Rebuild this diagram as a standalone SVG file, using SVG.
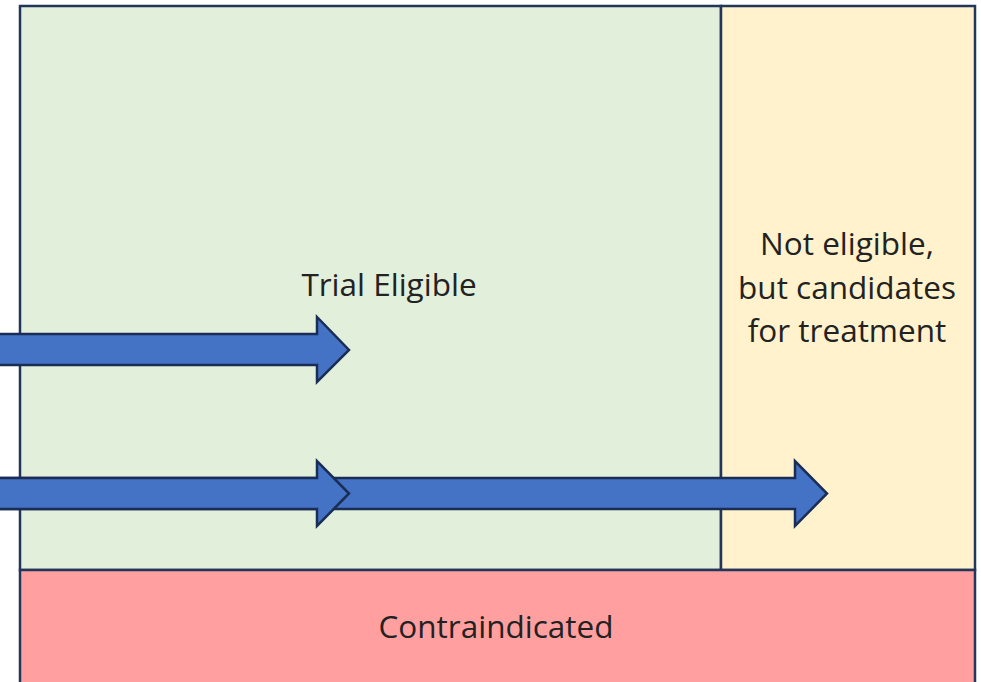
<svg xmlns="http://www.w3.org/2000/svg" width="981" height="682" viewBox="0 0 981 682">
<style>
.box{stroke:#22355a;stroke-width:2.5}
.arrow{fill:#4472c4;stroke:#1a2e55;stroke-width:2.5;stroke-linejoin:miter}
.lbl{font-family:"Open Sans","Liberation Sans",sans-serif;font-size:31.5px;fill:#222;text-anchor:middle}
</style>
<rect width="981" height="682" fill="#ffffff"/>
<g id="trial-eligible">
<rect class="box" x="20" y="6" width="701" height="564" fill="#e2efda"/>
<text class="lbl" x="389" y="296">Trial Eligible</text>
</g>
<g id="not-eligible">
<rect class="box" x="721" y="6" width="254" height="564" fill="#fff2cc"/>
<text class="lbl" x="847" y="255">Not eligible,</text>
<text class="lbl" x="847" y="299">but candidates</text>
<text class="lbl" x="847" y="342">for treatment</text>
</g>
<g id="contraindicated">
<rect class="box" x="20" y="570" width="955" height="120" fill="#ff9f9f"/>
<text class="lbl" x="496" y="638">Contraindicated</text>
</g>
<g id="connectors">
<polygon class="arrow" points="-10,478 795,478 795,461 827,493.5 795,526 795,509 -10,509"/>
<polygon class="arrow" points="-10,334 317,334 317,317 349,350 317,382 317,365 -10,365"/>
<polygon class="arrow" points="-10,478 317,478 317,461 349,493.5 317,526 317,509 -10,509"/>
</g>
</svg>
